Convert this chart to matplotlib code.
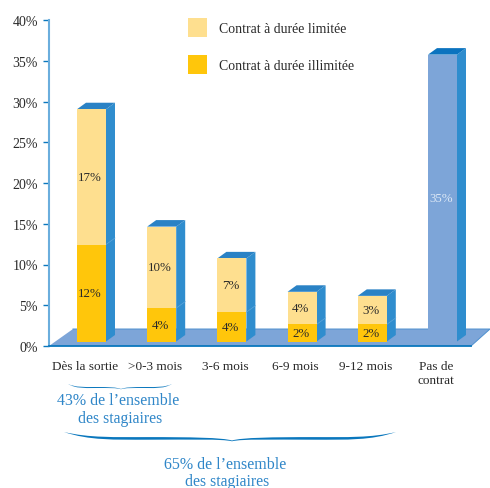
import numpy as np
import matplotlib
matplotlib.use('Agg')
import matplotlib.pyplot as plt
from matplotlib.patches import Patch, Polygon, PathPatch
from matplotlib.path import Path

categories = ['Dès la sortie', '>0-3 mois', '3-6 mois', '6-9 mois', '9-12 mois', 'Pas de\ncontrat']
illimitee = [11.9, 4.1, 3.6, 2.1, 2.1, 0]
limitee = [16.6, 10.0, 6.6, 4.0, 3.5, 0]
pas_de_contrat = [0, 0, 0, 0, 0, 35.2]
illimitee_labels = ['12%', '4%', '4%', '2%', '2%', '']
limitee_labels = ['17%', '10%', '7%', '4%', '3%', '']
pas_de_contrat_labels = ['', '', '', '', '', '35%']
yticks = [0, 5, 10, 15, 20, 25, 30, 35, 40]

W, H = 490, 489
LIGHT = '#FEDF8F'
ORANGE = '#FFC60B'
BLUE = '#7DA5D8'
SIDE = '#2F8DCE'
TOP = '#2A82C5'
LINE = '#0A77BD'
TEXT = '#2A2A2A'
TEXT_BLUE = '#2F86C8'

plt.rcParams['font.family'] = ['Liberation Serif', 'DejaVu Serif']

fig = plt.figure(figsize=(W / 100, H / 100), dpi=100)
# axes frame placed in pixels: y axis at 49, 0% at 347, 40% at 21
ax = fig.add_axes([49 / W, (H - 347) / H, (W - 49) / W, 326 / H])

px_x = 70.2   # pixels per category
px_y = 326 / 40   # pixels per percent
x0 = (91.5 - 49) / px_x
ax.set_xlim(-x0, (W - 49) / px_x - x0)
ax.set_ylim(0, 40)

x = np.arange(len(categories))
bar_w = 29 / px_x
dx = 9 / px_x     # depth of the 3d effect
dy = 6.5 / px_y
base = 4.5 / px_y   # bars stand a bit above the front edge of the floor

# floor
left = -x0
right = left + 422 / px_x
floor_dx = 24 / px_x
floor_dy = 17 / px_y
ax.add_patch(Polygon([(left, 0), (left + floor_dx, floor_dy), (right + 19 / px_x, floor_dy), (right, 0)],
                     closed=True, fc=BLUE, ec='none', zorder=1, clip_on=False))
ax.plot([left + floor_dx, right + 19 / px_x, right], [floor_dy, floor_dy, 0], color='#4E90CF', lw=0.7, zorder=1, clip_on=False)

tops = np.array(illimitee) + np.array(limitee) + np.array(pas_de_contrat) + base
for i, top in enumerate(tops):
    xr = x[i] + bar_w / 2
    xl = x[i] - bar_w / 2
    ax.add_patch(Polygon([(xr, base), (xr + dx, base + dy), (xr + dx, top + dy), (xr, top)],
                         closed=True, fc=SIDE, ec='none', zorder=2))
    top_color = '#0B73BF' if pas_de_contrat[i] else TOP
    ax.add_patch(Polygon([(xl, top), (xl + dx, top + dy), (xr + dx, top + dy), (xr, top)],
                         closed=True, fc=top_color, ec='none', zorder=2))
    if illimitee[i]:
        # faint seam on the side face between the two segments
        seam = illimitee[i] + base
        ax.plot([xr, xr + dx], [seam, seam + dy], color='#5FA6DB', lw=0.5, zorder=3)

bottoms = np.full(len(x), base)
ax.bar(x, illimitee, bar_w, bottom=bottoms, color=ORANGE, zorder=3)
ax.bar(x, limitee, bar_w, bottom=bottoms + np.array(illimitee), color=LIGHT, zorder=3)
ax.bar(x, pas_de_contrat, bar_w, bottom=bottoms, color=BLUE, zorder=3)

for i in range(len(x)):
    lx = x[i] - 1.5 / px_x
    if illimitee_labels[i]:
        ax.text(lx, base + illimitee[i] / 2, illimitee_labels[i], ha='center', va='center',
                fontsize=9.3, color=TEXT, zorder=4)
        ax.text(lx, base + illimitee[i] + limitee[i] / 2, limitee_labels[i], ha='center', va='center',
                fontsize=9.3, color=TEXT, zorder=4)
    if pas_de_contrat_labels[i]:
        ax.text(lx, base + pas_de_contrat[i] / 2, pas_de_contrat_labels[i], ha='center', va='center',
                fontsize=9.3, color='#DCE8F6', zorder=4)

for s in ['top', 'right']:
    ax.spines[s].set_visible(False)
ax.spines['left'].set_color('#6BAEDD')
ax.spines['left'].set_linewidth(1.5)
ax.spines['bottom'].set_color(LINE)
ax.spines['bottom'].set_linewidth(1.3)
ax.spines['bottom'].set_bounds(left, right)
ax.spines['bottom'].set_zorder(5)

ax.set_yticks(yticks)
ax.set_yticklabels([f'{v}%' for v in yticks], fontsize=10, color=TEXT)
ax.tick_params(axis='y', length=4.5, width=1, color=LINE, pad=3.5)
ax.set_xticks(x - 6.5 / px_x)
ax.set_xticklabels(categories, fontsize=9.5, color=TEXT, linespacing=1.2)
ax.tick_params(axis='x', length=0, pad=10)

handles = [Patch(fc=LIGHT, ec='none', label='Contrat à durée limitée'),
           Patch(fc=ORANGE, ec='none', label='Contrat à durée illimitée')]
fs = 9.9
ax.legend(handles=handles, loc='upper left', bbox_to_anchor=(188 / W, 1 - 19 / H), bbox_transform=fig.transFigure,
          frameon=False, fontsize=fs, borderpad=0, borderaxespad=0,
          handlelength=13.7 / fs, handleheight=1.75,
          labelspacing=(30.2 - 1.75 * fs) / fs, handletextpad=8.6 / fs, labelcolor=TEXT)


def brace(x1, x2, tip, y, depth, thick):
    # filled curly brace, coordinates in pixels from the top left
    def half(xa, off):
        # bezier controls from the outer end xa to the tip
        L = tip - xa
        return [(xa + 0.15 * L, y + 0.7 * depth + off), (xa + 0.3 * L, y + 0.6 * depth + off),
                (xa + 0.5 * L, y + 0.6 * depth + off),
                (xa + 0.75 * L, y + 0.6 * depth + off), (tip - 0.06 * L, y + 0.65 * depth + off * 0.5),
                (tip, y + depth + off * 0.3)]
    upper = [(x1, y)] + half(x1, 0) + half(x2, 0)[::-1][1:] + [(x2, y)]
    lower = half(x2, thick) + half(x1, thick)[::-1][1:] + [(x1, y)]
    pts = upper + lower
    codes = [Path.MOVETO] + [Path.CURVE4] * (len(pts) - 1)
    verts = [(a / W, 1 - b / H) for a, b in pts]
    fig.add_artist(PathPatch(Path(verts, codes), fc=LINE, ec='none', transform=fig.transFigure))


brace(68, 172, 121, 385, 5, 1.0)
brace(64, 396, 232, 433, 8.5, 2.6)

fig.text(118.5 / W, 1 - 405.5 / H, '43% de l’ensemble', ha='center', va='baseline', fontsize=11.5, color=TEXT_BLUE)
fig.text(120.5 / W, 1 - 423 / H, 'des stagiaires', ha='center', va='baseline', fontsize=11.3, color=TEXT_BLUE)
fig.text(225 / W, 1 - 469.5 / H, '65% de l’ensemble', ha='center', va='baseline', fontsize=11.5, color=TEXT_BLUE)
fig.text(227 / W, 1 - 486 / H, 'des stagiaires', ha='center', va='baseline', fontsize=11.3, color=TEXT_BLUE)

fig.savefig('out.png', dpi=100)
